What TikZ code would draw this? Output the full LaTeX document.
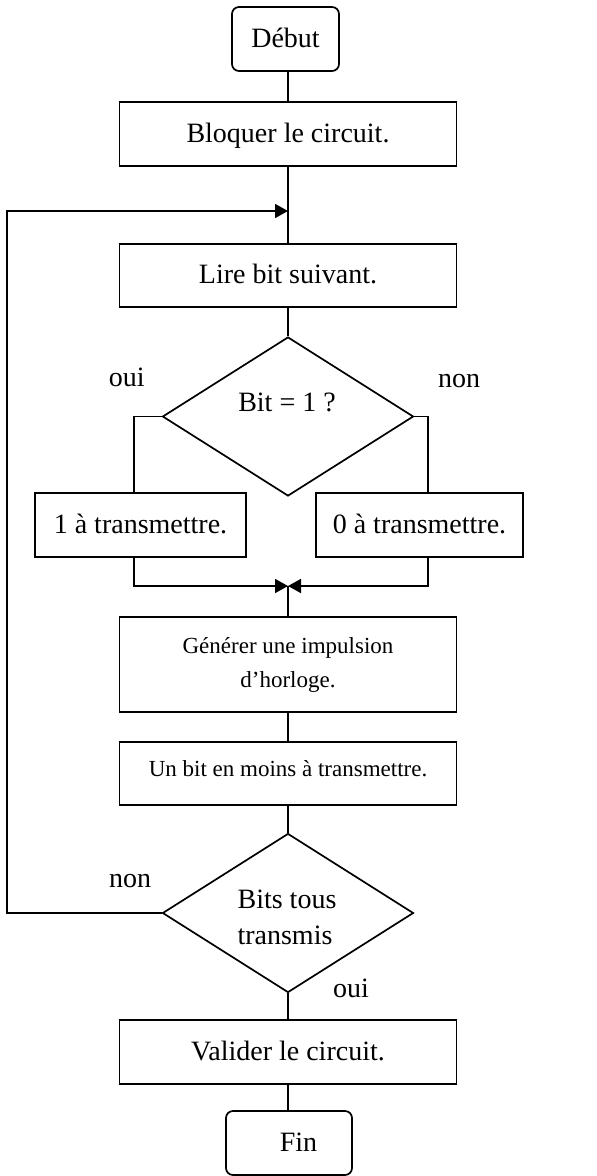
\documentclass[tikz,border=0pt]{standalone}
\usepackage{fontspec}
\setmainfont{Liberation Serif}
\usetikzlibrary{shapes.geometric,arrows.meta,calc}
\begin{document}
\begin{tikzpicture}[x=1pt,y=-1pt,
  every node/.style={font=\fontsize{28}{36}\selectfont},
  frame/.style={draw,line width=1.7pt,rectangle,minimum height=64pt,inner sep=0pt},
  box/.style={frame,text height=20pt,text depth=4pt},
  term/.style={box,rounded corners=7pt},
  choice/.style={draw,line width=1.7pt,diamond,minimum width=251pt,minimum height=159pt,inner sep=0pt},
  small/.style={font=\fontsize{23}{34}\selectfont},
  link/.style={line width=1.7pt},
  flow/.style={link,-{Triangle[length=13pt,width=14pt]}},
  lbl/.style={anchor=base,inner sep=0pt}]
\useasboundingbox (0,0) rectangle (597,1176);

% steps of the flowchart
\node[term,minimum width=107pt] (debut) at (285.5,39) {Début};
\node[box,minimum width=337pt] (bloquer) at (288,134) {Bloquer le circuit.};
\node[box,minimum width=337pt,minimum height=63pt] (lire) at (288,275.5) {Lire bit suivant.};
\node[choice] (d1) at (288,416.5) {};
\node[lbl] (q1) at (287,411.7) {Bit = 1 ?};
\node[box,minimum width=211pt] (un) at (140.5,525) {1 à transmettre.};
\node[box,minimum width=207pt] (zero) at (419.5,525) {0 à transmettre.};
\node[frame,small,minimum width=337pt,minimum height=95pt,align=center] (gen) at (288,664.5)
  {Générer une impulsion\\d’horloge.};
\node[frame,small,minimum width=337pt,minimum height=63pt,text height=16pt,text depth=10pt] (moins) at (288,773.5)
  {Un bit en moins à transmettre.};
\node[choice] (d2) at (288,913) {};
\node[lbl] (q2a) at (287,908) {Bits tous};
\node[lbl] (q2b) at (285,944) {transmis};
\node[box,minimum width=337pt] (valider) at (288,1052) {Valider le circuit.};
\node[term,minimum width=126pt] (fin) at (289,1143) {\hspace*{19pt}Fin};

% branch labels
\node[lbl] (oui1) at (126.7,386.7) {oui};
\node[lbl] (non1) at (459,387) {non};
\node[lbl] (non2) at (130,887) {non};
\node[lbl] (oui2) at (351,997) {oui};

% junction points
\coordinate (merge) at (288,586);
\coordinate (entry) at (288,211);
\coordinate (lc1) at (7,913);
\coordinate (lc2) at (7,211);

% connectors
\draw[link] (debut.south -| bloquer.north) -- (bloquer.north);
\draw[link] (bloquer) -- (lire);
\draw[link] (lire) -- (d1);
\draw[link] (d1.west) -| ($(un.north)+(-6.5,0)$);
\draw[link] (d1.east) -| ($(zero.north)+(8.5,0)$);
\draw[flow] ($(un.south)+(-6.5,0)$) |- (merge);
\draw[flow] ($(zero.south)+(8.5,0)$) |- (merge);
\draw[link] (merge) -- (gen.north);
\draw[link] (gen) -- (moins);
\draw[link] (moins) -- (d2);
\draw[link] (d2) -- (valider);
\draw[link] (valider.south) -- (valider.south |- fin.north);
\draw[flow] (d2.west) -- (lc1) -- (lc2) -- (entry);
\end{tikzpicture}
\end{document}
